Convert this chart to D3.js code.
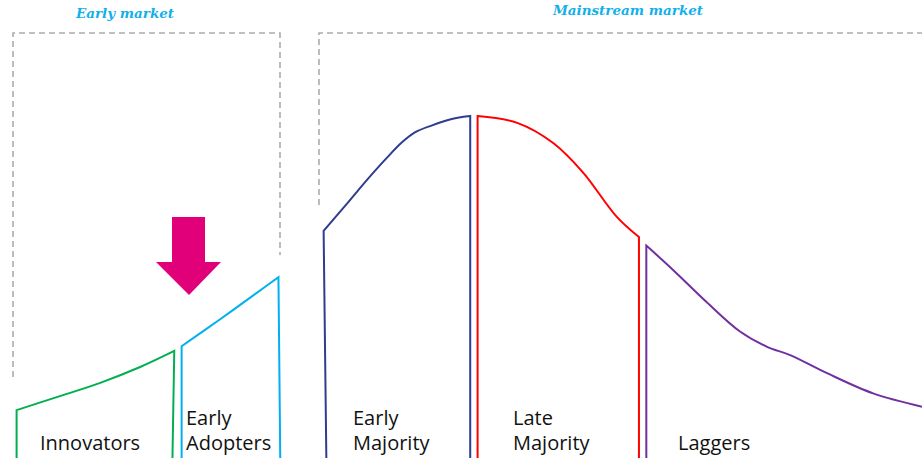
<!DOCTYPE html>
<html>
<head>
<meta charset="utf-8">
<script src="https://cdn.jsdelivr.net/npm/d3@7"></script>
<style>
  html, body { margin: 0; padding: 0; background: #fff; overflow: hidden; }
</style>
</head>
<body>
<script>
// Adoption curve, x = share of width (0-100), y = relative adoption (peak = 100)

var width = 922,
    height = 458;

var segmentNames = ["Innovators", "Early Adopters", "Early Majority", "Late Majority", "Laggers"];
var segmentColors = ["#00b050", "#00b0f0", "#2e3d8f", "#ff0000", "#7030a0"];

// top edge of each segment
var innovators    = [[1.8, 14.0], [6.5, 18.1], [10.8, 21.9], [15.2, 26.6], [18.9, 31.3]];
var earlyAdopters = [[19.7, 32.7], [22.2, 37.4], [25.3, 43.3], [27.7, 48.0], [30.2, 52.9]];
var earlyMajority = [[35.1, 66.4], [37.8, 74.9], [39.9, 81.6], [41.9, 87.6], [43.6, 92.3], [45.0, 95.2], [46.8, 97.2], [49.0, 99.1], [50.1, 99.7], [51.0, 100]];
var lateMajority  = [[51.8, 100], [56.1, 98.0], [60.0, 92.1], [63.2, 83.6], [66.9, 70.5], [69.3, 64.6]];
var laggers       = [[70.1, 62.1], [73.0, 55.0], [76.6, 45.7], [80.3, 36.9], [83.2, 32.5], [85.7, 30.1], [89.7, 24.8], [94.7, 18.9], [100, 15.0]];

// where each side edge meets the baseline
var baseLeft  = [1.8, 19.7, 35.4, 51.8, 70.1];
var baseRight = [18.7, 30.4, 51.0, 69.3, null];

var segments = [innovators, earlyAdopters, earlyMajority, lateMajority, laggers];

var svg = d3.select("body")
    .append("svg")
    .attr("width", width)
    .attr("height", height);

var x = d3.scaleLinear().domain([0, 100]).range([0, width]);
var y = d3.scaleLinear().domain([0, 100]).range([height, 116]);

// dashed market brackets (layout, px)
var boxes = svg.append("g")
    .attr("fill", "none")
    .attr("stroke", "#acacac")
    .attr("stroke-width", 1.6)
    .attr("stroke-dasharray", "6,4");

boxes.append("path").attr("d", "M13,377 L13,33 L280,33 L280,255");
boxes.append("path").attr("d", "M319,205 L319,33 L922,33");

var titleFont = "Georgia, 'DejaVu Serif', serif";

svg.append("text")
    .text("Early market")
    .attr("x", 125).attr("y", 18)
    .attr("text-anchor", "middle")
    .attr("font-family", titleFont)
    .attr("font-style", "italic").attr("font-weight", "bold")
    .attr("font-size", 13.5)
    .attr("fill", "#12b0ea");

svg.append("text")
    .text("Mainstream market")
    .attr("x", 628).attr("y", 15)
    .attr("text-anchor", "middle")
    .attr("font-family", titleFont)
    .attr("font-style", "italic").attr("font-weight", "bold")
    .attr("font-size", 13.5)
    .attr("fill", "#12b0ea");

var curve = d3.line()
    .x(d => x(d[0]))
    .y(d => y(d[1]))
    .curve(d3.curveCatmullRom.alpha(0.5));

var bottom = y(-1);

svg.append("g").selectAll("path")
    .data(segments)
    .enter()
    .append("path")
    .attr("fill", "none")
    .attr("stroke", (d, i) => segmentColors[i])
    .attr("stroke-width", 2)
    .attr("d", (d, i) => {
        var p = "M" + x(baseLeft[i]) + "," + bottom + "L" + curve(d).slice(1);
        if (baseRight[i] !== null) p += "L" + x(baseRight[i]) + "," + bottom;
        return p;
    });

// segment labels
var labelLines = [["Innovators"], ["Early", "Adopters"], ["Early", "Majority"], ["Late", "Majority"], ["Laggers"]];
var labelX = [40, 186, 353, 513, 678];

var labels = svg.append("g")
    .attr("font-family", "'Segoe UI', 'Open Sans', 'Noto Sans', sans-serif")
    .attr("font-size", 20)
    .attr("fill", "#111");

labelLines.forEach((lines, i) => {
    lines.forEach((t, j) => {
        labels.append("text")
            .text(t)
            .attr("x", labelX[i])
            .attr("y", 450 - (lines.length - 1 - j) * 25);
    });
});

// pointer arrow
svg.append("path")
    .attr("fill", "#e2007a")
    .attr("d", "M172,217 L205,217 L205,262 L221,262 L189,295 L156,262 L172,262 Z");
</script>
</body>
</html>
